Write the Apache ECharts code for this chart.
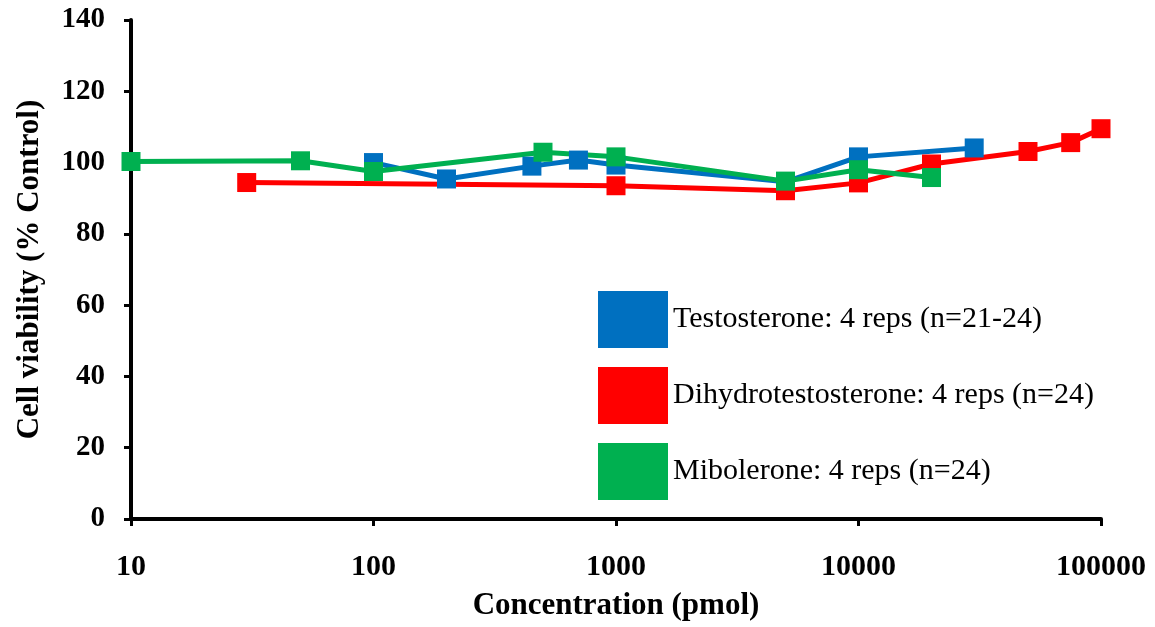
<!DOCTYPE html>
<html>
<head>
<meta charset="utf-8">
<script src="https://cdn.jsdelivr.net/npm/echarts@6/dist/echarts.min.js"></script>
<style>
html,body{margin:0;padding:0;background:#fff;}
#chart{width:1155px;height:627px;}
</style>
</head>
<body>
<div id="chart"></div>
<script>
const seriesNames = ['Testosterone: 4 reps (n=21-24)', 'Dihydrotestosterone: 4 reps (n=24)', 'Mibolerone: 4 reps (n=24)'];
const seriesColors = ['#0070C0', '#FF0000', '#00B050'];

const testoConc = [100, 200, 450, 700, 1000, 5000, 10000, 30000];
const testoVals = [100.0, 95.4, 99.0, 100.7, 99.3, 94.6, 101.6, 104.1];

const dhtConc = [30, 1000, 5000, 10000, 20000, 50000, 75000, 100000];
const dhtVals = [94.4, 93.5, 92.1, 94.3, 99.6, 103.1, 105.6, 109.5];

const mibConc = [10, 50, 100, 500, 1000, 5000, 10000, 20000];
const mibVals = [100.3, 100.5, 97.5, 102.9, 101.6, 94.8, 98.0, 95.8];

const xTicks = [10, 100, 1000, 10000, 100000];
const yTicks = [0, 20, 40, 60, 80, 100, 120, 140];

function pairs(xs, ys) { return xs.map((x, i) => [x, ys[i]]); }
const allData = [pairs(testoConc, testoVals), pairs(dhtConc, dhtVals), pairs(mibConc, mibVals)];

const serif = '"Liberation Serif", "Times New Roman", serif';
const chart = echarts.init(document.getElementById('chart'));
chart.setOption({
  animation: false,
  backgroundColor: '#fff',
  grid: { left: 131, right: 54, top: 20, bottom: 108, containLabel: false },
  legend: {
    data: seriesNames,
    orient: 'vertical',
    left: 593, top: 286,
    itemWidth: 70, itemHeight: 57, itemGap: 19,
    icon: 'rect',
    textStyle: { fontFamily: serif, fontSize: 30, color: '#000' }
  },
  xAxis: {
    type: 'log', logBase: 10,
    min: xTicks[0], max: xTicks[xTicks.length - 1],
    name: 'Concentration (pmol)', nameLocation: 'middle', nameGap: 71,
    nameTextStyle: { fontFamily: serif, fontWeight: 'bold', fontSize: 31, color: '#000' },
    axisLine: { lineStyle: { color: '#000', width: 4 } },
    axisTick: { show: true, length: 7, lineStyle: { color: '#000', width: 3 } },
    axisLabel: {
      fontFamily: serif, fontWeight: 'bold', fontSize: 30, color: '#000', margin: 33,
      formatter: v => String(Math.round(v))
    },
    splitLine: { show: false }
  },
  yAxis: {
    type: 'value', min: yTicks[0], max: yTicks[yTicks.length - 1], interval: 20,
    name: 'Cell viability (% Control)', nameLocation: 'middle', nameGap: 86, nameRotate: 90,
    nameTextStyle: { fontFamily: serif, fontWeight: 'bold', fontSize: 31, color: '#000' },
    axisLine: { show: true, lineStyle: { color: '#000', width: 4 } },
    axisTick: { show: true, length: 7, lineStyle: { color: '#000', width: 3 } },
    axisLabel: { fontFamily: serif, fontWeight: 'bold', fontSize: 29, color: '#000', margin: 26 },
    splitLine: { show: false }
  },
  series: allData.map((d, i) => ({
    name: seriesNames[i],
    type: 'line',
    data: d,
    symbol: 'rect',
    symbolSize: 19,
    showSymbol: true,
    color: seriesColors[i],
    lineStyle: { color: seriesColors[i], width: 5 },
    itemStyle: { color: seriesColors[i] }
  }))
});
</script>
</body>
</html>
